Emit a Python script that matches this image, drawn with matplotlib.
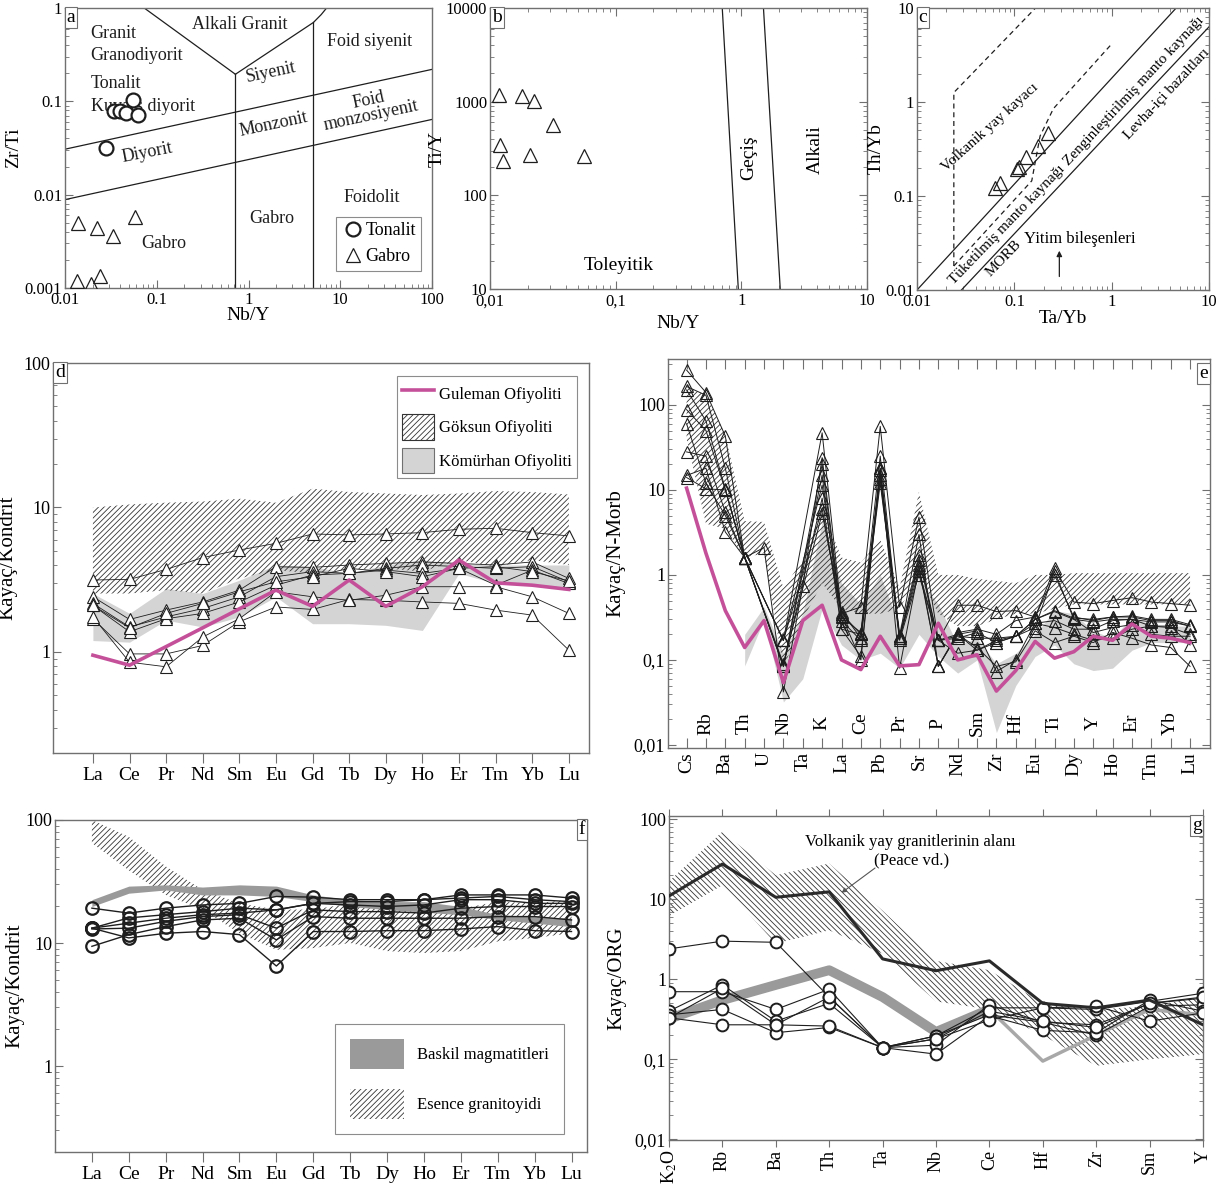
import numpy as np
import matplotlib
matplotlib.use("Agg")
import matplotlib.pyplot as plt
from matplotlib.lines import Line2D
from matplotlib.patches import Patch

plt.rcParams['font.family'] = ['Liberation Serif', 'DejaVu Serif']
plt.rcParams['mathtext.fontset'] = 'stix'
plt.rcParams['hatch.linewidth'] = 0.6

W, H = 1231, 1184
FRAME = '#707070'
INK = '#1e1e1e'
MAGENTA = '#c4509a'
LIGHT = '#d4d4d4'
HATCH = '#333333'

# ---- panel a : Zr/Ti vs Nb/Y ----
a_ton_nby = [0.034, 0.040, 0.046, 0.055, 0.062, 0.028]
a_ton_zrti = [0.079, 0.078, 0.075, 0.104, 0.072, 0.032]
a_gab_nby = [0.0137, 0.0226, 0.0334, 0.0582, 0.0134, 0.019, 0.0243]
a_gab_zrti = [0.0050, 0.0044, 0.0036, 0.0058, 0.00118, 0.0011, 0.00135]
a_alk_left = ([0.073, 0.72], [1.0, 0.195])
a_alk_right = ([0.72, 5.1, 6.2, 7.1], [0.195, 0.70, 0.85, 1.0])
a_upper = ([0.01, 100], [0.0307, 0.22])
a_lower = ([0.01, 100], [0.00885, 0.064])
a_vert = [(0.72, 0.195), (5.1, 0.70)]

# ---- panel b : Ti/Y vs Nb/Y ----
b_nby = [0.0119, 0.0179, 0.0226, 0.0316, 0.012, 0.0126, 0.0209, 0.0563]
b_tiy = [1177, 1150, 1016, 565, 347, 231, 272, 261]
b_line1 = ([0.705, 0.946], [10000, 10])
b_line2 = ([1.50, 2.04], [10000, 10])

# ---- panel c : Th/Yb vs Ta/Yb ----
c_tayb = [0.063, 0.071, 0.106, 0.113, 0.132, 0.177, 0.224]
c_thyb = [0.123, 0.139, 0.195, 0.205, 0.26, 0.342, 0.466]
c_solid1 = ([0.01, 4.6], [0.01, 10])
c_solid2 = ([0.0286, 10], [0.01, 6.3])
c_dash_arc = ([0.0239, 0.0239, 0.165], [0.018, 1.26, 10])
c_dash_in = ([0.0239, 0.151, 0.184, 0.252, 0.97], [0.018, 0.145, 0.436, 0.85, 4.0])

# ---- panel d : chondrite-normalised REE (triangles) ----
ree = ['La', 'Ce', 'Pr', 'Nd', 'Sm', 'Eu', 'Gd', 'Tb', 'Dy', 'Ho', 'Er', 'Tm', 'Yb', 'Lu']
d_guleman = [0.95, 0.81, 1.09, 1.47, 1.99, 2.68, 2.07, 3.15, 2.07, 2.83, 4.33, 3.01, 2.9, 2.71]
d_goksun_hi = [10, 10.5, 10.8, 11, 11.5, 10.8, 13.5, 12.8, 12.5, 12.2, 12.5, 13, 12.8, 12.3]
d_goksun_lo = [2.54, 2.54, 2.68, 2.54, 3.23, 3.69, 3.5, 3.73, 3.79, 3.6, 4.33, 3.9, 4.33, 4.0]
d_komur_hi = [2.54, 1.85, 2.75, 2.54, 3.14, 4.0, 3.9, 3.5, 4.0, 4.33, 4.1, 4.0, 4.0, 4.0]
d_komur_lo = [1.2, 1.17, 1.66, 1.49, 1.75, 2.41, 1.57, 1.57, 1.53, 1.41, 3.5, 2.98, 2.98, 2.75]
d_samples = [
    [3.15, 3.18, 3.73, 4.5, 5.08, 5.65, 6.56, 6.46, 6.56, 6.7, 7.07, 7.18, 6.7, 6.36],
    [2.41, 1.68, 1.95, 2.22, 2.68, 3.89, 3.85, 4.0, 4.1, 4.2, 4.1, 4.0, 4.2, 3.23],
    [2.17, 1.49, 1.75, 2.0, 2.41, 3.32, 3.6, 3.5, 3.79, 4.0, 3.9, 3.79, 3.9, 3.06],
    [2.1, 1.38, 1.70, 1.85, 2.22, 2.9, 3.41, 3.5, 3.69, 3.5, 3.79, 2.9, 3.69, 2.98],
    [1.70, 0.97, 0.97, 1.11, 1.62, 2.05, 1.97, 2.31, 2.28, 2.22, 2.17, 1.95, 1.8, 1.03],
    [1.75, 0.85, 0.79, 1.27, 1.7, 2.61, 2.41, 2.28, 2.47, 2.83, 2.83, 2.83, 2.41, 1.85],
    [2.1, 1.47, 1.85, 2.17, 2.61, 3.06, 3.32, 3.79, 3.6, 3.32, 3.79, 3.9, 3.6, 3.1],
]

# ---- panel e : N-MORB-normalised spider (triangles) ----
e_elems = ['Cs', 'Rb', 'Ba', 'Th', 'U', 'Nb', 'Ta', 'K', 'La', 'Ce', 'Pb', 'Pr', 'Sr', 'P',
           'Nd', 'Sm', 'Zr', 'Hf', 'Eu', 'Ti', 'Dy', 'Y', 'Ho', 'Er', 'Tm', 'Yb', 'Lu']
nan = np.nan
e_guleman = [10.5, 1.8, 0.38, 0.14, 0.29, 0.054, 0.29, 0.44, 0.1, 0.077, 0.19, 0.085, 0.088,
             0.27, 0.1, 0.115, 0.043, 0.075, 0.165, 0.105, 0.125, 0.19, 0.17, 0.265, 0.19, 0.18, 0.16]
e_goksun_hi = [165, 130, 45, 4.3, 4.2, 0.7, 1.5, 6, 1.6, 1.4, 2.6, 0.7, 9.5, 1.0,
               1.0, 0.9, 0.85, 0.8, 1.0, 1.0, 1.05, 1.05, 1.05, 1.05, 1.05, 1.05, 1.05]
e_goksun_lo = [40, 4, 3.5, 1.6, 1.8, 0.08, 0.3, 0.8, 0.4, 0.35, 0.35, 0.4, 1.0, 0.35,
               0.25, 0.25, 0.3, 0.35, 0.35, 0.4, 0.45, 0.45, 0.45, 0.45, 0.45, 0.45, 0.45]
e_komur_hi = [nan, nan, nan, 0.2, 0.42, 0.12, 0.35, 4.2, 0.8, 0.45, 1.0, 0.25, 0.9, 0.45,
              0.15, 0.18, 0.09, 0.12, 0.2, 0.38, 0.35, 0.22, 0.18, 0.32, 0.26, 0.25, 0.25]
e_komur_lo = [nan, nan, nan, 0.085, 0.3, 0.032, 0.06, 0.4, 0.15, 0.1, 0.12, 0.08, 0.2, 0.11,
              0.07, 0.1, 0.014, 0.05, 0.11, 0.15, 0.09, 0.075, 0.08, 0.13, 0.16, 0.16, 0.16]
e_samples = [
    [257, 140, 43, 1.6, nan, 0.17, nan, 47, 0.35, 0.42, 56, 0.42, 4.8, 0.17,
     0.44, 0.44, 0.37, 0.38, 0.32, 1.2, 0.48, 0.46, 0.5, 0.54, 0.48, 0.46, 0.44],
    [165, 130, 18, 1.6, 2.1, 0.042, 0.74, 24, 0.32, 0.21, 25, 0.19, 3.0, 0.084,
     0.21, 0.23, 0.2, 0.29, 0.32, 1.0, 0.32, 0.29, 0.32, 0.32, 0.29, 0.29, 0.25],
    [150, 65, 10.3, 1.6, nan, 0.084, nan, 20, 0.29, 0.17, 18, 0.19, 1.7, 0.17,
     0.18, 0.21, 0.16, 0.19, 0.27, 0.29, 0.23, 0.23, 0.29, 0.3, 0.25, 0.24, 0.2],
    [88, 50, 10, 1.6, nan, 0.084, nan, 15, 0.23, 0.11, 18, 0.08, 1.2, 0.084,
     0.2, 0.14, 0.084, 0.095, 0.22, 0.16, 0.19, 0.16, 0.21, 0.18, 0.15, 0.14, 0.084],
    [28, 25, 5.5, 1.6, nan, 0.17, nan, 11.4, 0.35, 0.2, 13.5, 0.17, 1.0, 0.17,
     0.19, 0.18, 0.18, 0.19, 0.3, 0.37, 0.3, 0.28, 0.3, 0.3, 0.28, 0.28, 0.25],
    [14.8, 18, 3.2, 1.6, nan, 0.084, nan, 8, 0.23, 0.2, 15, 0.18, 1.3, 0.084,
     0.2, 0.22, 0.073, 0.1, 0.27, 0.24, 0.2, 0.17, 0.18, 0.23, 0.25, 0.25, 0.15],
    [60, 12, 5, 1.6, nan, 0.09, nan, 5.3, 0.37, 0.18, 12, 0.19, 1.1, 0.17,
     0.2, 0.13, 0.17, 0.19, 0.3, 0.38, 0.31, 0.3, 0.32, 0.33, 0.3, 0.3, 0.26],
    [14, 10.3, 10, 1.6, nan, 0.17, nan, 6, 0.33, 0.1, 17, 0.18, 1.5, 0.17,
     0.12, 0.13, 0.16, 0.19, 0.24, 1.1, 0.3, 0.21, 0.24, 0.26, 0.2, 0.19, 0.19],
]

# ---- panel f : chondrite-normalised REE (circles) ----
f_baskil_hi = [22.5, 29, 29.7, 28.5, 29.7, 29, 24.6, 22.5, 21.7, 21.7, 19.8, 17, 16.4, 15.9]
f_baskil_lo = [19.8, 25.4, 27, 24.6, 24.6, 23.9, 21.7, 19.8, 18.7, 17.8, 17, 15.5, 14.5, 13.6]
f_esence_hi = [100, 73, 42, 27, 21, 18.7, 18.7, 21, 18.7, 18.7, 19, 21.7, 21, 22.5]
f_esence_lo = [65, 39, 24.6, 18.7, 12, 8.8, 9.1, 10, 8.6, 8.3, 8.6, 10.3, 11, 12]
f_samples = [
    [19.2, 17.5, 19.2, 20.4, 21, 23.9, 23.6, 22.5, 22.5, 22.5, 24.6, 24.6, 24.6, 23.2],
    [13.2, 16, 17, 18, 19.2, 18.6, 21, 20.4, 19.8, 20.4, 22.5, 22.5, 21, 21],
    [13, 13.2, 15, 16.4, 17, 13.2, 18.6, 18, 18, 17.5, 19.2, 19.8, 19.8, 19.8],
    [9.4, 11.7, 13.6, 15.4, 15.9, 10.6, 16.4, 15.9, 15.9, 15.9, 15.9, 16.4, 16.4, 15.4],
    [13.2, 11, 12, 12.4, 11.7, 6.5, 12.4, 12.4, 12.6, 12.6, 13, 13.6, 12.6, 12.4],
    [13.2, 14.5, 15.9, 17, 17.5, 18.6, 21, 21.7, 21.7, 22.5, 23.2, 23.9, 22.5, 21.7],
]

# ---- panel g : ORG-normalised (circles) ----
g_elems = ['K$_2$O', 'Rb', 'Ba', 'Th', 'Ta', 'Nb', 'Ce', 'Hf', 'Zr', 'Sm', 'Y']
g_peace = [11, 27.6, 10.6, 12.4, 1.8, 1.28, 1.7, 0.5, 0.44, 0.55, 0.27]
g_arc_hi = [16.8, 70, 20, 28, 7.2, 1.7, 1.3, 0.5, 0.42, 0.46, 0.61]
g_arc_lo = [6.2, 15, 2.8, 4.1, 2.1, 0.53, 0.42, 0.2, 0.083, 0.1, 0.116]
g_baskil = [0.32, 0.55, 0.85, 1.3, 0.6, 0.22, 0.42, 0.095, 0.2, 0.42, 0.36]
g_samples = [
    [2.4, 3.0, 2.9, 0.6, 0.14, 0.196, 0.44, 0.44, 0.42, 0.53, 0.67],
    [0.7, 0.7, 0.42, 0.75, 0.14, 0.15, 0.48, 0.29, 0.27, 0.5, 0.58],
    [0.4, 0.85, 0.3, 0.5, 0.14, 0.196, 0.36, 0.29, 0.2, 0.46, 0.48],
    [0.33, 0.77, 0.27, 0.6, 0.14, 0.116, 0.35, 0.23, 0.215, 0.55, 0.4],
    [0.36, 0.42, 0.215, 0.25, 0.14, 0.18, 0.31, 0.44, 0.46, 0.3, 0.38],
    [0.33, 0.27, 0.27, 0.26, 0.14, 0.18, 0.4, 0.3, 0.25, 0.5, 0.6],
]


def box(l, t, r, b):
    return [l / W, 1 - b / H, (r - l) / W, (b - t) / H]


def frame(ax, xdir='in', ydir='in', top=True, right=True, size=13):
    for sp in ax.spines.values():
        sp.set_color(FRAME)
        sp.set_linewidth(1.0)
    ax.tick_params(axis='x', which='both', direction=xdir, top=top, colors=FRAME,
                   labelcolor='black', labelsize=size, pad=3)
    ax.tick_params(axis='y', which='both', direction=ydir, right=right, colors=FRAME,
                   labelcolor='black', labelsize=size, pad=2)
    ax.tick_params(which='major', length=6)
    ax.tick_params(which='minor', length=3)


def tag(ax, s, x, y, ha):
    ax.text(x, y, s, transform=ax.transAxes, ha=ha, va='top', fontsize=14, zorder=20,
            bbox=dict(boxstyle='square,pad=0.1', fc='white', ec=FRAME, lw=0.8))


def band(ax, x, hi, lo, **kw):
    ax.fill_between(x, lo, hi, linewidth=0, **kw)


def spider(ax, x, rows, marker, ms, mfc, mew, lw=0.6):
    for row in rows:
        y = np.array(row, dtype=float)
        ok = ~np.isnan(y)
        ax.plot(np.asarray(x)[ok], y[ok], color=INK, lw=lw, marker=marker, ms=ms,
                mfc=mfc, mec=INK, mew=mew, zorder=5)


fig = plt.figure(figsize=(W / 100, H / 100), dpi=100)

# ---------------- a ----------------
ax = fig.add_axes(box(65, 8, 432, 288))
ax.set_xscale('log')
ax.set_yscale('log')
ax.set_xlim(0.01, 100)
ax.set_ylim(0.001, 1)
for xs, ys in (a_alk_left, a_alk_right, a_upper, a_lower):
    ax.plot(xs, ys, color=INK, lw=0.9)
for xv, ytop in a_vert:
    ax.plot([xv, xv], [0.001, ytop], color=INK, lw=0.9)
kw = dict(fontsize=13, color=INK)
ax.text(0.019, 0.53, 'Granit', va='center', **kw)
ax.text(0.019, 0.306, 'Granodiyorit', va='center', **kw)
ax.text(0.019, 0.157, 'Tonalit', va='center', **kw)
ax.text(0.019, 0.089, 'Kuvars diyorit', va='center', **kw)
ax.text(0.8, 0.66, 'Alkali Granit', ha='center', va='center', **kw)
ax.text(0.078, 0.028, 'Diyorit', ha='center', va='center', rotation=11, **kw)
ax.text(1.75, 0.206, 'Siyenit', ha='center', va='center', rotation=12, **kw)
ax.text(1.9, 0.056, 'Monzonit', ha='center', va='center', rotation=12, **kw)
ax.text(21, 0.44, 'Foid siyenit', ha='center', va='center', **kw)
ax.text(21, 0.085, 'Foid\nmonzosiyenit', ha='center', va='center', rotation=12,
        linespacing=0.9, **kw)
ax.text(22, 0.0094, 'Foidolit', ha='center', va='center', **kw)
ax.text(1.77, 0.0056, 'Gabro', ha='center', va='center', **kw)
ax.text(0.12, 0.003, 'Gabro', ha='center', va='center', **kw)
ax.plot(a_ton_nby, a_ton_zrti, 'o', ms=10, mfc='white', mec=INK, mew=1.6, ls='none',
        label='Tonalit', zorder=6)
ax.plot(a_gab_nby, a_gab_zrti, '^', ms=10, mfc='none', mec=INK, mew=0.9, ls='none',
        label='Gabro', zorder=6)
leg = ax.legend(loc='lower right', bbox_to_anchor=(0.995, 0.03), fontsize=13, frameon=True,
                fancybox=False, edgecolor=FRAME, handletextpad=0.1, borderpad=0.3,
                labelspacing=0.5, handlelength=1.2)
leg.get_frame().set_linewidth(0.8)
ax.set_xticks([0.01, 0.1, 1, 10, 100], ['0.01', '0.1', '1', '10', '100'])
ax.set_yticks([0.001, 0.01, 0.1, 1], ['0.001', '0.01', '0.1', '1'])
frame(ax, top=False, right=False, size=12)
ax.set_xlabel('Nb/Y', fontsize=14, labelpad=-1)
ax.set_ylabel('Zr/Ti', fontsize=14, labelpad=2)
tag(ax, 'a', 0.005, 0.995, 'left')

# ---------------- b ----------------
ax = fig.add_axes(box(490, 8, 867, 289))
ax.set_xscale('log')
ax.set_yscale('log')
ax.set_xlim(0.01, 10)
ax.set_ylim(10, 10000)
for xs, ys in (b_line1, b_line2):
    ax.plot(xs, ys, color=INK, lw=0.9)
ax.text(1.15, 250, 'Geçiş', rotation=90, ha='center', va='center', fontsize=14)
ax.text(3.9, 310, 'Alkali', rotation=90, ha='center', va='center', fontsize=14)
ax.text(0.106, 18, 'Toleyitik', ha='center', va='center', fontsize=14)
ax.plot(b_nby, b_tiy, '^', ms=10, mfc='none', mec=INK, mew=0.9, ls='none')
ax.set_xticks([0.01, 0.1, 1, 10], ['0,01', '0,1', '1', '10'])
ax.set_yticks([10, 100, 1000, 10000], ['10', '100', '1000', '10000'])
frame(ax, size=12)
ax.set_xlabel('Nb/Y', fontsize=14, labelpad=4)
ax.set_ylabel('Ti/Y', fontsize=14, labelpad=0)
tag(ax, 'b', 0.005, 0.995, 'left')

# ---------------- c ----------------
ax = fig.add_axes(box(917, 8, 1209, 290))
ax.set_xscale('log')
ax.set_yscale('log')
ax.set_xlim(0.01, 10)
ax.set_ylim(0.01, 10)
for xs, ys in (c_solid1, c_solid2):
    ax.plot(xs, ys, color=INK, lw=0.9)
for xs, ys in (c_dash_arc, c_dash_in):
    ax.plot(xs, ys, color=INK, lw=0.9, ls=(0, (4, 3)))
kw = dict(fontsize=11, ha='center', va='center', rotation_mode='anchor')
ax.text(0.056, 0.54, 'Volkanik yay kayacı', rotation=42, **kw)
ax.text(1.7, 1.3, 'Zenginleştirilmiş manto kaynağı', rotation=47, **kw)
ax.text(3.7, 1.22, 'Levha-içi bazaltları', rotation=47, **kw)
ax.text(0.085, 0.049, 'Tüketilmiş manto kaynağı', rotation=46, **kw)
ax.text(0.078, 0.0215, 'MORB', rotation=46, **kw)
ax.text(0.47, 0.035, 'Yitim bileşenleri', fontsize=12, ha='center', va='center')
ax.annotate('', xy=(0.29, 0.028), xytext=(0.29, 0.013),
            arrowprops=dict(arrowstyle='-|>', color=INK, lw=0.9, mutation_scale=8))
ax.plot(c_tayb, c_thyb, '^', ms=10, mfc='none', mec=INK, mew=0.9, ls='none')
ax.set_xticks([0.01, 0.1, 1, 10], ['0.01', '0.1', '1', '10'])
ax.set_yticks([0.01, 0.1, 1, 10], ['0.01', '0.1', '1', '10'])
frame(ax, size=12)
ax.set_xlabel('Ta/Yb', fontsize=14, labelpad=0)
ax.set_ylabel('Th/Yb', fontsize=14, labelpad=0)
tag(ax, 'c', 0.005, 0.995, 'left')

# ---------------- d ----------------
ax = fig.add_axes(box(53, 363, 589, 753))
xd = np.arange(len(ree))
ax.set_yscale('log')
ax.set_xlim(-1.09, 13.55)
ax.set_ylim(0.2, 100)
band(ax, xd, d_komur_hi, d_komur_lo, color=LIGHT, zorder=1)
band(ax, xd, d_goksun_hi, d_goksun_lo, facecolor='none', edgecolor=HATCH,
     hatch='//////', zorder=2)
spider(ax, xd, d_samples, '^', 9, 'white', 0.8)
ax.plot(xd, d_guleman, color=MAGENTA, lw=2.6, zorder=7)
handles = [Line2D([], [], color=MAGENTA, lw=2.6),
           Patch(facecolor='white', edgecolor=HATCH, hatch='//////', lw=0.8),
           Patch(facecolor=LIGHT, edgecolor=FRAME, lw=0.8)]
leg = ax.legend(handles, ['Guleman Ofiyoliti', 'Göksun Ofiyoliti', 'Kömürhan Ofiyoliti'],
                loc='upper right', bbox_to_anchor=(0.993, 0.988), fontsize=12,
                fancybox=False, edgecolor=FRAME, handlelength=1.9, handleheight=2.0,
                labelspacing=0.45, handletextpad=0.3, borderpad=0.3)
leg.get_frame().set_linewidth(0.8)
ax.set_xticks(xd, ree)
ax.set_yticks([1, 10, 100], ['1', '10', '100'])
frame(ax, xdir='out', top=False, right=False)
ax.tick_params(axis='x', length=7, labelsize=14)
ax.set_ylabel('Kayaç/Kondrit', fontsize=15, labelpad=4)
tag(ax, 'd', 0.004, 0.997, 'left')

# ---------------- e ----------------
ax = fig.add_axes(box(668, 359, 1210, 748))
xe = np.arange(len(e_elems))
ax.set_yscale('log')
ax.set_xlim(-0.96, 27.03)
ax.set_ylim(0.0092, 347)
band(ax, xe, e_komur_hi, e_komur_lo, color=LIGHT, zorder=1)
band(ax, xe, e_goksun_hi, e_goksun_lo, facecolor='none', edgecolor=HATCH,
     hatch='//////', zorder=2)
spider(ax, xe, e_samples, '^', 8, 'none', 0.8, lw=0.7)
ax.plot(xe, e_guleman, color=MAGENTA, lw=2.6, zorder=7)
ax.set_xticks(xe, [n if i % 2 == 0 else '' for i, n in enumerate(e_elems)], rotation=90)
for i, n in enumerate(e_elems):
    if i % 2 == 1:
        ax.text(i, 0.018, n, rotation=90, ha='center', va='center', fontsize=14)
ax.set_yticks([0.01, 0.1, 1, 10, 100], ['0,01', '0,1', '1', '10', '100'])
frame(ax)
ax.tick_params(axis='x', labelsize=14, length=7)
ax.set_ylabel('Kayaç/N-Morb', fontsize=15, labelpad=6)
tag(ax, 'e', 0.996, 0.985, 'right')

# ---------------- f ----------------
ax = fig.add_axes(box(55, 820, 587, 1152))
xf = np.arange(len(ree))
ax.set_yscale('log')
ax.set_xlim(-1.0, 13.42)
ax.set_ylim(0.2, 100)
band(ax, xf, f_esence_hi, f_esence_lo, facecolor='none', edgecolor=HATCH,
     hatch='//////', zorder=1)
band(ax, xf, f_baskil_hi, f_baskil_lo, color='#9a9a9a', zorder=2)
spider(ax, xf, f_samples, 'o', 9, 'none', 1.6, lw=1.0)
handles = [Patch(facecolor='#9a9a9a', edgecolor='none'),
           Patch(facecolor='white', edgecolor=HATCH, hatch='//////', lw=0)]
leg = ax.legend(handles, ['Baskil magmatitleri', 'Esence granitoyidi'],
                loc='lower right', bbox_to_anchor=(0.972, 0.03), fontsize=12,
                fancybox=False, edgecolor=FRAME, handlelength=3.2, handleheight=2.4,
                labelspacing=1.2, handletextpad=0.8, borderpad=0.9)
leg.get_frame().set_linewidth(0.8)
ax.set_xticks(xf, ree)
ax.set_yticks([1, 10, 100], ['1', '10', '100'])
frame(ax, xdir='out', top=False, right=False)
ax.tick_params(axis='x', length=7, labelsize=14)
ax.set_ylabel('Kayaç/Kondrit', fontsize=15, labelpad=1)
tag(ax, 'f', 0.997, 0.997, 'right')

# ---------------- g ----------------
ax = fig.add_axes(box(669, 816, 1203, 1140))
xg = np.arange(len(g_elems))
ax.set_yscale('log')
ax.set_xlim(0, 10)
ax.set_ylim(0.0098, 110)
band(ax, xg, g_arc_hi, g_arc_lo, facecolor='none', edgecolor=HATCH,
     hatch='\\\\\\\\\\\\', zorder=1)
ax.plot(xg[:7], g_baskil[:7], color='#9a9a9a', lw=7, solid_capstyle='butt', zorder=2)
ax.plot(xg[6:], g_baskil[6:], color='#a8a8a8', lw=2.5, zorder=2)
ax.plot(xg, g_peace, color='#2a2a2a', lw=2.2, zorder=6)
spider(ax, xg, g_samples, 'o', 8.5, 'white', 1.4, lw=0.8)
ax.text(4.51, 52, 'Volkanik yay granitlerinin alanı', ha='center', va='center', fontsize=12)
ax.text(4.55, 31, '(Peace vd.)', ha='center', va='center', fontsize=12)
ax.annotate('', xy=(3.19, 11.5), xytext=(3.9, 25.8),
            arrowprops=dict(arrowstyle='-|>', color='#555555', lw=0.8, mutation_scale=7))
ax.set_xticks(xg, g_elems, rotation=90)
ax.set_yticks([0.01, 0.1, 1, 10, 100], ['0,01', '0,1', '1', '10', '100'])
frame(ax, xdir='out')
ax.tick_params(axis='x', labelsize=13, length=5, pad=2)
ax.set_ylabel('Kayaç/ORG', fontsize=15, labelpad=6)
tag(ax, 'g', 0.997, 0.997, 'right')

fig.savefig('out.png', dpi=100, facecolor='white')
